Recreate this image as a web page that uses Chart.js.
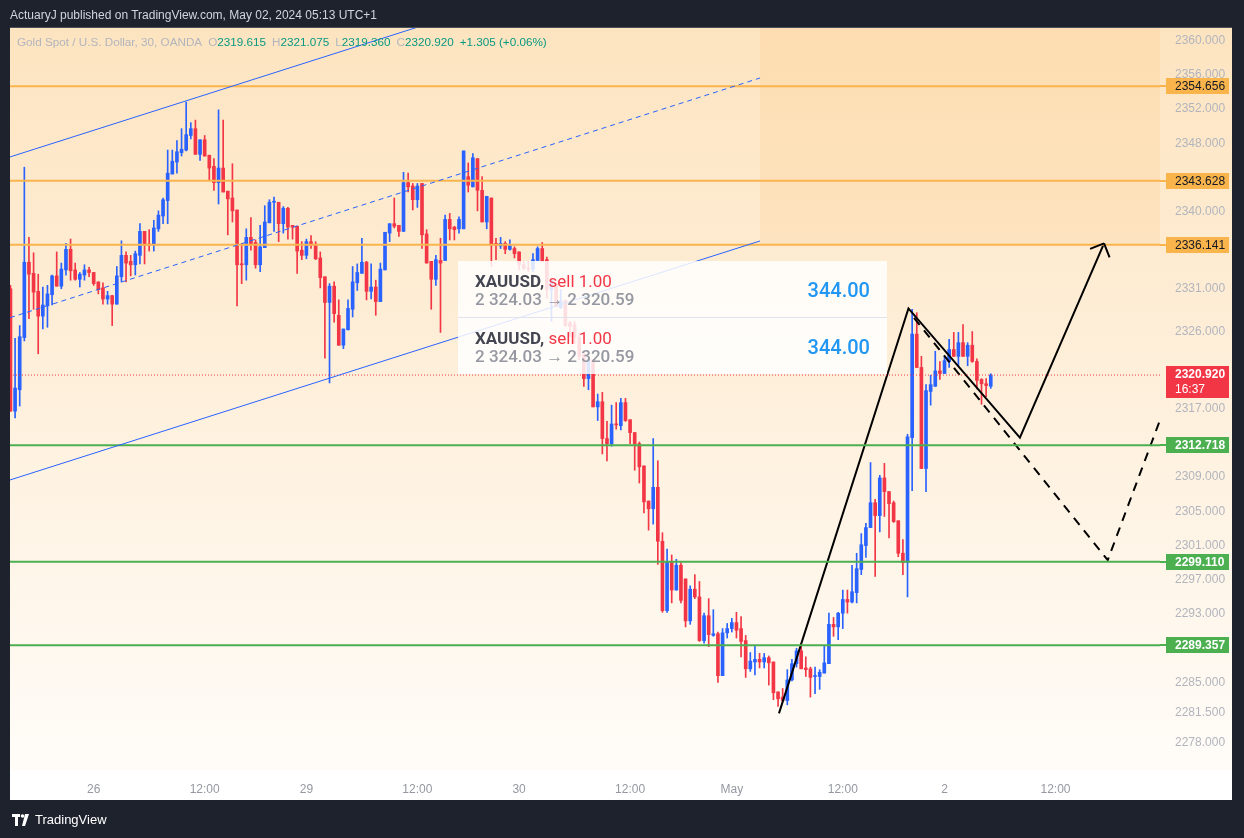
<!DOCTYPE html>
<html>
<head>
<meta charset="utf-8">
<script src="https://cdn.jsdelivr.net/npm/chart.js@4.4.1/dist/chart.umd.min.js"></script>
<style>
  html, body { margin: 0; padding: 0; background: #1e222d; }
  #wrap { position: relative; width: 1244px; height: 838px; overflow: hidden; }
  #chart { position: absolute; left: 0; top: 0; }
  #header { position: absolute; left: 10px; top: 8px; color: #d1d4dc; font: 12px "Liberation Sans", Arial, sans-serif; white-space: nowrap; }
  #legend { position: absolute; left: 17px; top: 35px; color: #b2b5be; font: 11.7px "Liberation Sans", Arial, sans-serif; white-space: nowrap; }
  #legend .v { color: #089981; }
  #legend .gap { margin-left: 6px; }
  #trades { position: absolute; left: 458px; top: 261px; width: 429px; height: 113px; background: rgba(255,255,255,0.84); font-family: Roboto, "Liberation Sans", sans-serif; }
  .row { position: absolute; left: 0; width: 429px; height: 56px; }
  .row + .row { border-top: 1px solid #e0e3eb; }
  .l1 { position: absolute; left: 17px; top: 10px; font-size: 17px; line-height: 20px; white-space: nowrap; }
  .l1 b { color: #434651; font-weight: 700; }
  .l1 span { color: #f23645; }
  .l2 { position: absolute; left: 17px; top: 28px; font-size: 17px; line-height: 20px; color: #9598a1; font-weight: 500; white-space: nowrap; }
  .pnl { position: absolute; right: 17px; top: 17px; font-size: 20px; line-height: 24px; color: #2196f3; font-weight: 500; }
  #footer { position: absolute; left: 12px; top: 812px; color: #ffffff; font: 13px "Liberation Sans", Arial, sans-serif; display: flex; align-items: center; gap: 3px; }
</style>
</head>
<body>
<div id="wrap">
  <canvas id="chart" width="1244" height="838"></canvas>
  <div id="header">ActuaryJ published on TradingView.com, May 02, 2024 05:13 UTC+1</div>
  <div id="legend">Gold Spot / U.S. Dollar, 30, OANDA<span class="gap">O</span><span class="v">2319.615</span><span class="gap">H</span><span class="v">2321.075</span><span class="gap">L</span><span class="v">2319.360</span><span class="gap">C</span><span class="v">2320.920</span><span class="gap v">+1.305 (+0.06%)</span></div>
  <div id="trades">
    <div class="row" style="top:0">
      <div class="l1"><b>XAUUSD,</b> <span>sell 1.00</span></div>
      <div class="l2">2 324.03 → 2 320.59</div>
      <div class="pnl">344.00</div>
    </div>
    <div class="row" style="top:56px">
      <div class="l1"><b>XAUUSD,</b> <span>sell 1.00</span></div>
      <div class="l2">2 324.03 → 2 320.59</div>
      <div class="pnl">344.00</div>
    </div>
  </div>
  <div id="footer">
    <svg width="20" height="12" viewBox="0 0 20 12"><rect x="0" y="0" width="8" height="3" fill="#fff"/><rect x="3" y="0" width="3" height="12" fill="#fff"/><circle cx="10.5" cy="2" r="1.8" fill="#fff"/><polygon points="13,0 17,0 13,12 10,12" fill="#fff"/></svg>
    <span>TradingView</span>
  </div>
</div>
<script>
/* --------------- XAUUSD 30 min candles (index 0 = first bar on screen) --------------- */
const opens = [
  2331.0, 2316.7, 2319.2, 2325.3, 2334.1, 2332.8, 2330.7, 2327.8, 2329.0, 2330.3,
  2332.5, 2331.3, 2333.2, 2335.6, 2333.2, 2332.1, 2332.6, 2333.2, 2332.9, 2331.8,
  2331.1, 2329.8, 2330.2, 2329.2, 2332.4, 2334.9, 2334.2, 2333.8, 2334.9, 2337.7,
  2336.2, 2336.1, 2338.0, 2339.5, 2341.3, 2344.4, 2345.8, 2346.9, 2347.2, 2348.9,
  2349.7, 2346.7, 2348.4, 2346.6, 2345.3, 2343.4, 2345.1, 2342.4, 2341.6, 2340.2,
  2333.9, 2333.8, 2337.0, 2336.4, 2333.8, 2335.8, 2338.7, 2341.1, 2341.1, 2338.6,
  2340.4, 2338.4, 2338.3, 2335.5, 2334.9, 2336.5, 2336.2, 2334.6, 2332.4, 2329.4,
  2331.3, 2327.9, 2324.4, 2326.2, 2328.6, 2331.7, 2332.8, 2334.1, 2330.7, 2331.2,
  2329.5, 2333.2, 2337.5, 2338.6, 2338.4, 2337.7, 2343.4, 2343.0, 2341.4, 2343.3,
  2337.4, 2334.2, 2332.1, 2334.3, 2334.3, 2339.1, 2338.2, 2338.0, 2338.0, 2344.1,
  2342.9, 2346.2, 2342.5, 2338.8, 2341.6, 2336.3, 2336.0, 2336.3, 2335.6, 2335.7,
  2335.3, 2333.8, 2333.4, 2333.3, 2334.3, 2335.7, 2334.4, 2330.9, 2331.6, 2328.8,
  2329.6, 2327.0, 2326.8, 2325.3, 2323.3, 2320.5, 2322.7, 2317.2, 2317.8, 2313.5,
  2312.9, 2315.2, 2315.0, 2317.7, 2315.7, 2314.2, 2312.9, 2310.3, 2306.2, 2305.3,
  2307.8, 2301.5, 2293.4, 2299.1, 2295.8, 2298.7, 2297.1, 2292.2, 2295.9, 2295.0,
  2289.9, 2292.8, 2290.5, 2290.7, 2285.8, 2290.8, 2291.3, 2292.0, 2291.3, 2289.9,
  2286.6, 2287.4, 2287.7, 2287.4, 2287.9, 2287.4, 2283.9, 2283.3, 2282.9, 2285.3,
  2287.2, 2288.7, 2286.7, 2286.6, 2285.7, 2285.7, 2286.1, 2287.2, 2291.8, 2291.5,
  2293.1, 2294.7, 2294.4, 2295.5, 2298.2, 2301.0, 2303.1, 2306.0, 2304.5, 2308.9,
  2307.3, 2306.0, 2303.9, 2300.1, 2299.0, 2313.6, 2325.7, 2321.8, 2310.0, 2319.0,
  2319.6, 2321.4, 2321.1, 2322.5, 2323.9, 2323.1, 2324.7, 2323.1, 2324.4, 2322.5,
  2320.4, 2319.9, 2319.615
];
const highs = [
  2331.4, 2325.2, 2326.7, 2345.2, 2337.0, 2335.2, 2332.7, 2331.2, 2331.4, 2332.6,
  2335.3, 2334.0, 2336.3, 2336.8, 2334.0, 2332.9, 2333.8, 2333.5, 2332.9, 2331.8,
  2331.7, 2330.7, 2330.2, 2333.6, 2336.6, 2335.3, 2334.9, 2335.4, 2338.6, 2337.7,
  2337.9, 2339.0, 2340.1, 2341.6, 2347.2, 2347.2, 2348.3, 2349.7, 2352.8, 2350.4,
  2350.7, 2348.4, 2348.9, 2346.6, 2346.2, 2351.9, 2350.7, 2342.4, 2345.6, 2340.2,
  2336.3, 2338.0, 2339.3, 2336.7, 2338.4, 2340.7, 2341.4, 2341.7, 2341.1, 2340.6,
  2340.5, 2338.4, 2338.3, 2336.5, 2336.8, 2337.2, 2336.5, 2335.3, 2332.4, 2331.6,
  2331.8, 2329.7, 2326.3, 2329.7, 2333.6, 2333.9, 2336.9, 2334.2, 2333.9, 2332.0,
  2334.0, 2337.6, 2338.6, 2341.6, 2338.4, 2344.6, 2344.5, 2343.3, 2343.3, 2343.3,
  2337.9, 2334.2, 2334.9, 2336.9, 2339.6, 2339.8, 2338.3, 2339.4, 2347.1, 2345.7,
  2346.8, 2346.2, 2344.1, 2341.8, 2341.6, 2336.9, 2337.0, 2336.5, 2336.7, 2335.9,
  2335.3, 2334.2, 2334.2, 2335.1, 2335.9, 2336.4, 2334.7, 2332.0, 2331.6, 2330.9,
  2329.7, 2327.2, 2327.2, 2325.8, 2323.7, 2322.7, 2322.7, 2318.7, 2318.9, 2315.5,
  2317.4, 2317.7, 2318.2, 2318.2, 2315.7, 2314.2, 2313.1, 2310.3, 2306.2, 2313.5,
  2310.9, 2302.5, 2300.6, 2299.9, 2299.4, 2299.0, 2297.1, 2296.3, 2297.6, 2296.8,
  2293.1, 2294.8, 2293.5, 2290.9, 2291.3, 2291.9, 2292.5, 2293.2, 2292.7, 2290.5,
  2288.5, 2289.3, 2288.4, 2288.4, 2288.1, 2287.4, 2283.9, 2284.3, 2286.5, 2287.7,
  2289.0, 2289.6, 2288.0, 2286.8, 2286.8, 2286.5, 2289.3, 2293.1, 2292.6, 2293.2,
  2295.8, 2295.8, 2298.7, 2300.1, 2302.4, 2303.6, 2310.7, 2306.4, 2309.2, 2310.6,
  2307.3, 2306.2, 2303.9, 2301.7, 2314.0, 2328.6, 2328.2, 2323.1, 2319.8, 2320.9,
  2323.7, 2322.5, 2323.1, 2325.1, 2325.9, 2325.9, 2326.8, 2324.7, 2326.0, 2322.8,
  2320.5, 2320.5, 2321.075
];
const lows = [
  2316.7, 2315.9, 2317.3, 2324.9, 2327.5, 2328.6, 2323.4, 2326.3, 2326.5, 2329.1,
  2331.3, 2331.0, 2332.6, 2332.0, 2332.0, 2331.2, 2332.0, 2332.4, 2331.4, 2330.4,
  2329.2, 2329.2, 2326.7, 2329.2, 2331.8, 2331.8, 2332.5, 2332.6, 2333.9, 2333.9,
  2335.4, 2335.4, 2337.7, 2338.6, 2338.6, 2344.4, 2344.5, 2346.5, 2347.1, 2348.5,
  2346.7, 2346.0, 2346.5, 2343.7, 2342.5, 2340.9, 2342.3, 2337.3, 2338.8, 2329.0,
  2331.6, 2332.0, 2335.5, 2333.4, 2333.0, 2335.8, 2338.7, 2337.7, 2336.5, 2337.5,
  2336.8, 2336.8, 2332.8, 2334.4, 2334.5, 2335.7, 2334.4, 2331.1, 2322.9, 2320.0,
  2327.1, 2324.4, 2324.0, 2326.2, 2327.7, 2330.8, 2332.8, 2329.7, 2329.8, 2327.9,
  2329.5, 2333.2, 2336.5, 2338.1, 2337.1, 2337.7, 2342.3, 2340.2, 2340.5, 2335.7,
  2334.0, 2328.6, 2331.4, 2325.9, 2334.3, 2336.7, 2336.7, 2337.5, 2338.0, 2342.3,
  2342.9, 2340.1, 2338.8, 2338.0, 2333.6, 2334.4, 2335.7, 2335.1, 2335.5, 2334.6,
  2333.2, 2333.2, 2333.0, 2333.0, 2334.3, 2334.2, 2329.9, 2327.2, 2328.9, 2328.7,
  2326.6, 2325.4, 2324.6, 2322.7, 2319.6, 2319.2, 2317.2, 2315.6, 2311.7, 2310.9,
  2312.6, 2314.6, 2314.5, 2315.5, 2312.9, 2309.8, 2308.3, 2304.8, 2302.8, 2303.5,
  2298.8, 2293.2, 2293.2, 2294.3, 2295.8, 2294.3, 2291.5, 2291.8, 2294.8, 2289.8,
  2289.6, 2289.2, 2290.4, 2285.0, 2285.8, 2290.2, 2290.9, 2290.2, 2288.0, 2285.6,
  2286.3, 2285.9, 2286.7, 2286.7, 2284.7, 2283.0, 2282.2, 2282.8, 2282.4, 2285.2,
  2286.8, 2286.6, 2285.7, 2283.3, 2283.7, 2284.2, 2286.1, 2287.2, 2290.4, 2290.0,
  2291.3, 2293.1, 2294.3, 2294.3, 2297.6, 2299.6, 2303.1, 2297.4, 2302.6, 2304.4,
  2301.9, 2303.7, 2299.7, 2297.6, 2295.0, 2307.4, 2321.8, 2310.0, 2307.3, 2317.4,
  2319.6, 2320.4, 2321.1, 2321.8, 2323.1, 2322.0, 2323.1, 2322.0, 2322.4, 2319.3,
  2317.5, 2318.4, 2319.36
];
const closes = [
  2316.7, 2319.4, 2325.4, 2334.1, 2332.7, 2330.6, 2327.8, 2329.1, 2330.4, 2332.5,
  2331.3, 2333.3, 2335.6, 2333.1, 2332.1, 2332.7, 2333.2, 2332.9, 2331.6, 2330.9,
  2329.8, 2330.2, 2329.2, 2332.5, 2334.9, 2334.0, 2333.8, 2335.1, 2337.7, 2336.1,
  2336.1, 2338.1, 2339.6, 2341.4, 2344.5, 2345.9, 2347.0, 2347.3, 2349.0, 2349.7,
  2346.7, 2348.4, 2346.5, 2345.1, 2343.4, 2345.1, 2342.3, 2341.5, 2340.1, 2333.8,
  2333.8, 2337.0, 2336.2, 2333.8, 2335.9, 2338.8, 2341.1, 2341.2, 2338.6, 2340.4,
  2338.2, 2338.2, 2335.4, 2334.9, 2336.5, 2336.1, 2334.5, 2332.3, 2329.4, 2331.3,
  2328.1, 2324.4, 2326.3, 2328.7, 2331.8, 2332.9, 2334.1, 2330.7, 2331.2, 2329.5,
  2333.3, 2337.6, 2338.6, 2338.3, 2337.7, 2343.4, 2342.9, 2341.4, 2343.0, 2337.3,
  2334.0, 2332.1, 2334.4, 2334.0, 2339.1, 2338.0, 2337.9, 2339.1, 2347.1, 2343.1,
  2346.3, 2342.5, 2338.8, 2341.8, 2336.1, 2336.1, 2336.3, 2335.6, 2336.1, 2335.1,
  2333.8, 2333.4, 2333.3, 2334.4, 2335.7, 2334.2, 2330.9, 2332.0, 2328.9, 2329.6,
  2326.7, 2326.6, 2325.3, 2323.1, 2320.5, 2322.7, 2317.2, 2317.8, 2313.5, 2312.9,
  2315.2, 2315.1, 2317.7, 2315.6, 2314.2, 2312.9, 2310.2, 2306.1, 2305.3, 2307.8,
  2301.5, 2293.4, 2299.1, 2295.8, 2298.7, 2294.6, 2292.2, 2295.9, 2295.0, 2289.9,
  2292.8, 2290.6, 2290.7, 2285.8, 2290.8, 2291.3, 2292.0, 2291.1, 2289.8, 2286.6,
  2287.5, 2287.7, 2287.4, 2287.9, 2287.3, 2283.8, 2283.1, 2282.9, 2285.3, 2287.2,
  2288.7, 2286.6, 2286.5, 2285.6, 2285.8, 2286.2, 2287.3, 2291.8, 2291.5, 2293.1,
  2294.7, 2294.4, 2295.6, 2298.3, 2301.1, 2303.1, 2306.0, 2304.5, 2308.9, 2307.3,
  2305.9, 2303.8, 2300.1, 2299.0, 2313.7, 2325.7, 2321.8, 2310.0, 2319.1, 2319.8,
  2321.4, 2321.1, 2322.6, 2323.9, 2323.1, 2324.7, 2323.1, 2324.4, 2322.5, 2320.3,
  2319.9, 2319.7, 2320.92
];

/* --------------- Axis Labels --------------------- */
const xTickPos = [18, 42, 64, 88, 110, 134, 156, 180, 202, 226];
const xTickText = ["26", "12:00", "29", "12:00", "30", "12:00", "May", "12:00", "2", "12:00"];
const yTicks = [2360, 2356, 2352, 2348, 2340, 2331, 2326, 2317, 2309, 2305, 2301, 2297, 2293, 2285, 2281.5, 2278];

/* --------------- Drawings: [bar index, price] --------------------- */
const resistance = [2354.656, 2343.628, 2336.141];
const support = [2312.718, 2299.110, 2289.357];
const lastPrice = 2320.92;
const lastTimer = "16:37";
const channelUpper = [[-1, 2346.24], [100, 2363.62]];
const channelMid = [[-0.1, 2327.62], [162.1, 2355.62]];
const channelLower = [[-0.1, 2308.66], [162.1, 2336.58]];
const pathSolid = [[166.2, 2281.4], [194.2, 2328.7], [218.3, 2313.6], [236.5, 2336.3]];
const pathDashed = [[195.4, 2327.6], [237.3, 2299.3], [251.8, 2320.3]];
const zoneStart = 162.1;

const xMin = -0.1, xMax = 248.6;
const yMin = 2274.78, yMax = 2361.46;

const UP = "#2962ff", DOWN = "#f23645";
const ORANGE = "#f9b54c", GREEN = "#4caf50";

const idx = opens.map((_, i) => i);
const candleColors = idx.map(i => (closes[i] >= opens[i] ? UP : DOWN));
const pts = (arr) => arr.map(p => ({ x: p[0], y: p[1] }));
const lineDs = (label, arr, color, width, dash) => ({
  type: "line", label, data: pts(arr), borderColor: color, borderWidth: width,
  borderDash: dash || [], pointRadius: 0, tension: 0, order: 1,
});

const datasets = [
  { type: "bar", label: "wicks", data: idx.map(i => ({ x: i, y: [lows[i], highs[i]] })),
    backgroundColor: candleColors, barThickness: 1, grouped: false, order: 10, minBarLength: 1 },
  { type: "bar", label: "bodies", data: idx.map(i => ({ x: i, y: [opens[i], closes[i]] })),
    backgroundColor: candleColors, barThickness: 3, grouped: false, order: 9, minBarLength: 1 },
  lineDs("chanU", channelUpper, UP, 1),
  lineDs("chanM", channelMid, UP, 1, [5, 4]),
  lineDs("chanL", channelLower, UP, 1),
];
resistance.forEach(v => datasets.push(lineDs("res", [[xMin, v], [xMax, v]], ORANGE, 2)));
support.forEach(v => datasets.push(lineDs("sup", [[xMin, v], [xMax, v]], GREEN, 2)));
datasets.push(lineDs("last", [[xMin, lastPrice], [xMax, lastPrice]], DOWN, 1, [1, 2]));
datasets.push(lineDs("path", pathSolid, "#000000", 2));
datasets.push(lineDs("pathDash", pathDashed, "#000000", 2, [9, 7]));

/* --------------- Plugins --------------------- */
const backdrop = {
  id: "backdrop",
  beforeDraw(chart) {
    const { ctx, chartArea: ca } = chart;
    const right = chart.width - 12;
    ctx.save();
    ctx.fillStyle = "#1e222d";
    ctx.fillRect(0, 0, chart.width, chart.height);
    const g = ctx.createLinearGradient(0, ca.top, 0, ca.bottom);
    g.addColorStop(0, "#fde4c0");
    g.addColorStop(1, "#fffcf8");
    ctx.fillStyle = g;
    ctx.fillRect(ca.left, ca.top, right - ca.left, ca.bottom - ca.top);
    ctx.fillStyle = "#ffffff";
    ctx.fillRect(ca.left, ca.bottom, right - ca.left, 30);
    ctx.fillStyle = "#4a4e59";
    ctx.fillRect(ca.left, ca.top - 1, right - ca.left, 1);
    const x0 = chart.scales.x.getPixelForValue(zoneStart);
    const y1 = chart.scales.y.getPixelForValue(resistance[2]);
    ctx.fillStyle = "rgba(255,180,80,0.13)";
    ctx.fillRect(x0, ca.top, ca.right - x0, y1 - ca.top);
    ctx.restore();
  },
};

const arrowHead = {
  id: "arrowHead",
  afterDatasetsDraw(chart) {
    const i = chart.data.datasets.findIndex(d => d.label === "path");
    const el = chart.getDatasetMeta(i).data;
    const a = el[el.length - 2], b = el[el.length - 1];
    const ang = Math.atan2(b.y - a.y, b.x - a.x);
    const ctx = chart.ctx;
    ctx.save();
    ctx.strokeStyle = "#000";
    ctx.lineWidth = 2;
    ctx.beginPath();
    [-1, 1].forEach(s => {
      ctx.moveTo(b.x, b.y);
      ctx.lineTo(b.x - 15 * Math.cos(ang + s * 0.785), b.y - 15 * Math.sin(ang + s * 0.785));
    });
    ctx.stroke();
    ctx.restore();
  },
};

const priceTags = {
  id: "priceTags",
  afterDraw(chart) {
    const { ctx, chartArea: ca } = chart;
    const ys = chart.scales.y;
    const bx = ca.right + 6, bw = 63;
    ctx.save();
    ctx.textBaseline = "middle";
    const tag = (v, bg, fg, bold) => {
      const y = Math.round(ys.getPixelForValue(v));
      ctx.fillStyle = bg;
      ctx.fillRect(ca.right, y - 1, 6, 2);
      ctx.fillRect(bx, y - 8, bw, 16);
      ctx.fillStyle = fg;
      ctx.font = (bold ? "bold " : "") + "12px 'Liberation Sans', Arial, sans-serif";
      ctx.fillText(v.toFixed(3), bx + 9, y + 0.5);
    };
    resistance.forEach(v => tag(v, ORANGE, "#131722", false));
    support.forEach(v => tag(v, GREEN, "#ffffff", true));
    const y = Math.round(ys.getPixelForValue(lastPrice));
    ctx.fillStyle = DOWN;
    ctx.fillRect(bx, y - 9, bw, 32);
    ctx.fillStyle = "#ffffff";
    ctx.font = "bold 12px 'Liberation Sans', Arial, sans-serif";
    ctx.fillText(lastPrice.toFixed(3), bx + 9, y);
    ctx.font = "12px 'Liberation Sans', Arial, sans-serif";
    ctx.fillText(lastTimer, bx + 9, y + 15);
    ctx.restore();
  },
};

/* --------------- Chart --------------------- */
new Chart(document.getElementById("chart"), {
  type: "bar",
  data: { datasets },
  plugins: [backdrop, arrowHead, priceTags],
  options: {
    responsive: false,
    animation: false,
    devicePixelRatio: 1,
    layout: { padding: { left: 10, top: 28, right: 12, bottom: 38 } },
    plugins: { legend: { display: false }, tooltip: { enabled: false } },
    scales: {
      x: {
        type: "linear", min: xMin, max: xMax, offset: false,
        grid: { display: false, drawTicks: false, offset: false }, border: { display: false },
        afterBuildTicks: s => { s.ticks = xTickPos.map(v => ({ value: v })); },
        afterFit: s => { s.height = 30; },
        ticks: {
          autoSkip: false, maxRotation: 0, padding: 12, color: "#9598a1",
          font: { family: "'Liberation Sans', Arial, sans-serif", size: 12 },
          callback: v => xTickText[xTickPos.indexOf(v)],
        },
      },
      y: {
        type: "linear", position: "right", min: yMin, max: yMax,
        grid: { display: false, drawTicks: false }, border: { display: false },
        afterBuildTicks: s => { s.ticks = yTicks.map(v => ({ value: v })); },
        afterFit: s => { s.width = 72; },
        ticks: {
          autoSkip: false, padding: 15, color: "#b2b5be",
          font: { family: "'Liberation Sans', Arial, sans-serif", size: 12 },
          callback: v => v.toFixed(3),
        },
      },
    },
  },
});
</script>
</body>
</html>
